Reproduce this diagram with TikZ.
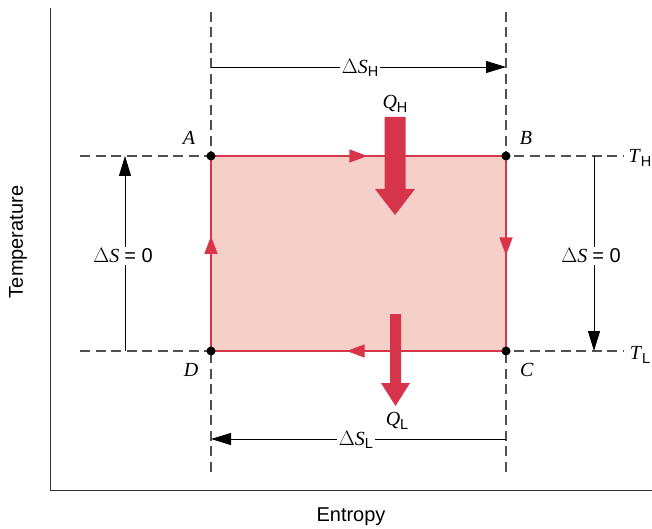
\documentclass[tikz,border=0pt]{standalone}
\usepackage{fontspec}
\setmainfont{Liberation Serif}
\setsansfont{Liberation Sans}
\usetikzlibrary{arrows.meta,decorations.markings}
\definecolor{cyred}{HTML}{D8344A}
\definecolor{cyfill}{HTML}{F5D0C8}
\definecolor{fatred}{HTML}{D6344A}
\definecolor{dashgray}{HTML}{505050}
\definecolor{axisgray}{HTML}{333333}
\newcommand{\lsub}[1]{\raisebox{-3.5pt}{\fontsize{14.5}{14.5}\selectfont\sffamily #1}}
\newcommand{\dS}{$\Delta$\textit{S}}
\tikzset{
  lbl/.style={font=\fontsize{20}{22}\selectfont, inner sep=2pt},
  dashline/.style={dashgray, line width=1.2pt, dash pattern=on 10pt off 5.5pt},
  axisline/.style={axisgray, line width=1pt},
  redline/.style={cyred, line width=1.6pt},
  midarrow/.style={postaction={decorate}, decoration={markings,
      mark=at position #1 with {\arrow{Triangle[length=18pt,width=13pt]}}}},
  dimline/.style={black, line width=0.9pt},
  dimtip/.style={-{Triangle[length=20pt,width=12pt]}},
  pt/.style={circle, fill=black, inner sep=0pt, minimum size=9pt},
}
\begin{document}
\begin{tikzpicture}[x=1pt,y=-1pt]
\useasboundingbox (0,0) rectangle (652,529);
% axes
\coordinate (ytop) at (50,8);
\coordinate (orig) at (50,490);
\coordinate (xend) at (652,490);
\draw[axisline] (ytop) -- (orig) -- (xend);
\node[font=\fontsize{20}{22}\selectfont\sffamily, rotate=90] (tlab) at (18,242) {Temperature};
\node[font=\fontsize{20}{22}\selectfont\sffamily] (elab) at (351,517) {Entropy};
% dashed guides
\coordinate (vAt) at (211,12);  \coordinate (vAb) at (211,472);
\coordinate (vBt) at (506,12);  \coordinate (vBb) at (506,472);
\coordinate (hHl) at (80,156);  \coordinate (hHr) at (623,156);
\coordinate (hLl) at (80,351);  \coordinate (hLr) at (623,351);
\draw[dashline] (vAt) -- (vAb);
\draw[dashline] (vBt) -- (vBb);
\draw[dashline] (hHl) -- (hHr);
\draw[dashline] (hLl) -- (hLr);
% cycle points
\coordinate (A) at (211,156);
\coordinate (B) at (506,156);
\coordinate (C) at (506,351);
\coordinate (D) at (211,351);
\fill[cyfill] (A) rectangle (C);
\draw[redline, midarrow=0.53] (A) -- (B);
\draw[redline, midarrow=0.51] (B) -- (C);
\draw[redline, midarrow=0.54] (C) -- (D);
\draw[redline, midarrow=0.59] (D) -- (A);
\node[pt] (pA) at (A) {};
\node[pt] (pB) at (B) {};
\node[pt] (pC) at (C) {};
\node[pt] (pD) at (D) {};
\node[lbl] (lA) at (189,138) {\textit{A}};
\node[lbl] (lB) at (526,138) {\textit{B}};
\node[lbl] (lC) at (527,370) {\textit{C}};
\node[lbl] (lD) at (191,370) {\textit{D}};
\node[lbl] (lTH) at (640,158) {\textit{T}\lsub{H}};
\node[lbl] (lTL) at (640,355) {\textit{T}\lsub{L}};
% heat arrows
\fill[fatred] (384.5,117) -- (405.5,117) -- (405.5,189) -- (415,189) -- (395,215) -- (375,189) -- (384.5,189) -- cycle;
\fill[fatred] (390,314) -- (401,314) -- (401,383) -- (410,383) -- (395.5,406) -- (381,383) -- (390,383) -- cycle;
\node[lbl] (QH) at (395,104) {\textit{Q}\lsub{H}};
\node[lbl] (QL) at (397,421) {\textit{Q}\lsub{L}};
% entropy change dimensions
\coordinate (sHl) at (211,67); \coordinate (sHr) at (506,67);
\node[lbl] (dSH) at (360,68) {\dS\lsub{H}};
\draw[dimline] (sHl) -- (sHl -| dSH.west);
\draw[dimline, dimtip] (sHr -| dSH.east) -- (sHr);
\coordinate (sLl) at (211,439); \coordinate (sLr) at (506,439);
\node[lbl] (dSL) at (356,440) {\dS\lsub{L}};
\draw[dimline] (sLr) -- (sLr -| dSL.east);
\draw[dimline, dimtip] (sLl -| dSL.west) -- (sLl);
\coordinate (zLb) at (125,351); \coordinate (zLt) at (125,156);
\node[lbl] (dz1) at (123,256) {\dS\ {\sffamily = 0}};
\draw[dimline] (zLb) -- (zLb |- dz1.south);
\draw[dimline, dimtip] (zLt |- dz1.north) -- (zLt);
\coordinate (zRt) at (594,156); \coordinate (zRb) at (594,351);
\node[lbl] (dz2) at (591,256) {\dS\ {\sffamily = 0}};
\draw[dimline] (zRt) -- (zRt |- dz2.north);
\draw[dimline, dimtip] (zRb |- dz2.south) -- (zRb);
\end{tikzpicture}
\end{document}
